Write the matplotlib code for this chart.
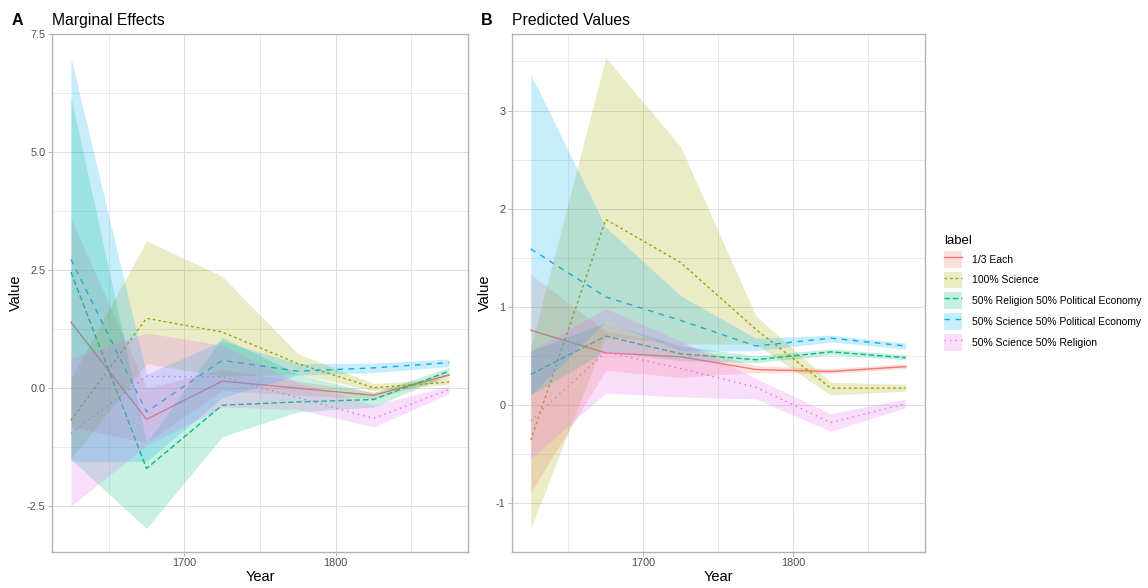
import matplotlib
matplotlib.use("Agg")
import matplotlib.pyplot as plt
from matplotlib.patches import Patch
from matplotlib.lines import Line2D
from matplotlib.legend_handler import HandlerTuple

plt.rcParams['font.family'] = ['Liberation Sans', 'DejaVu Sans']

# ---------------- data ----------------
years = [1625, 1675, 1725, 1775, 1825, 1875]
labels = ['1/3 Each', '100% Science', '50% Religion 50% Political Economy',
          '50% Science 50% Political Economy', '50% Science 50% Religion']

# Panel A: marginal effects
me_third = [1.40, -0.66, 0.15, 0.00, -0.15, 0.28]
me_third_lo = [-0.82, -1.15, -0.05, -0.15, -0.22, 0.22]
me_third_hi = [3.60, 0.00, 0.40, 0.15, -0.08, 0.33]

me_sci = [-0.68, 1.48, 1.19, 0.52, 0.01, 0.13]
me_sci_lo = [-1.50, 0.52, 0.25, 0.30, -0.05, 0.08]
me_sci_hi = [0.20, 3.12, 2.37, 0.73, 0.10, 0.20]

me_relpe = [2.46, -1.70, -0.36, -0.29, -0.24, 0.36]
me_relpe_lo = [-1.50, -2.97, -1.03, -0.50, -0.40, 0.28]
me_relpe_hi = [6.17, -1.15, 1.08, 0.30, -0.10, 0.44]

me_scipe = [2.73, -0.50, 0.59, 0.36, 0.43, 0.54]
me_scipe_lo = [-1.55, -1.55, -0.20, 0.28, 0.33, 0.46]
me_scipe_hi = [7.00, 0.30, 1.00, 0.52, 0.53, 0.62]

me_scirel = [-0.96, 0.25, 0.24, -0.20, -0.64, -0.03]
me_scirel_lo = [-2.50, -1.21, -0.40, -0.45, -0.82, -0.12]
me_scirel_hi = [0.64, 1.17, 0.91, 0.13, -0.36, 0.05]

# Panel B: predicted values
pv_third = [0.76, 0.53, 0.49, 0.36, 0.34, 0.39]
pv_third_lo = [-0.89, 0.35, 0.28, 0.33, 0.32, 0.37]
pv_third_hi = [1.33, 0.75, 0.62, 0.40, 0.37, 0.42]

pv_sci = [-0.36, 1.89, 1.45, 0.77, 0.17, 0.17]
pv_sci_lo = [-1.26, 0.70, 0.62, 0.62, 0.10, 0.14]
pv_sci_hi = [0.58, 3.54, 2.63, 0.91, 0.23, 0.21]

pv_relpe = [0.31, 0.70, 0.52, 0.46, 0.54, 0.48]
pv_relpe_lo = [0.10, 0.55, 0.45, 0.43, 0.51, 0.46]
pv_relpe_hi = [0.55, 0.84, 0.60, 0.50, 0.57, 0.51]

pv_scipe = [1.59, 1.10, 0.86, 0.60, 0.68, 0.60]
pv_scipe_lo = [0.10, 0.85, 0.55, 0.55, 0.64, 0.57]
pv_scipe_hi = [3.37, 1.81, 1.11, 0.68, 0.71, 0.63]

pv_scirel = [-0.16, 0.54, 0.37, 0.18, -0.18, 0.01]
pv_scirel_lo = [-0.55, 0.12, 0.08, 0.06, -0.27, -0.03]
pv_scirel_hi = [0.55, 0.98, 0.65, 0.27, -0.09, 0.06]

# ---------------- styling ----------------
colors = ['#F8766D', '#A3A500', '#00BF7D', '#00B0F6', '#E76BF3']
linestyles = ['-', (0, (2, 2)), (0, (4, 2)), (0, (4, 4)), (0, (1, 3))]
fill_alpha = 0.22
grid_col = '#DEDEDE'
frame_col = '#B3B3B3'


def draw_panel(ax, series, yticks, yminor, fmt):
    for i, (est, lo, hi) in enumerate(series):
        # lines sit under the ribbons, as in the original
        ax.plot(years, est, color=colors[i], ls=linestyles[i], lw=1.0, zorder=2)
    for i, (est, lo, hi) in enumerate(series):
        ax.fill_between(years, lo, hi, color=colors[i], alpha=fill_alpha,
                        lw=0, zorder=3)
    ax.margins(x=0.05, y=0.05)
    ax.set_xticks([1700, 1800])
    ax.set_xticks([1650, 1750, 1850], minor=True)
    ax.set_yticks(yticks)
    ax.set_yticklabels([fmt.format(v) for v in yticks])
    ax.set_yticks(yminor, minor=True)
    ax.grid(which='major', color=grid_col, lw=0.75, zorder=0)
    ax.grid(which='minor', color=grid_col, lw=0.45, zorder=0)
    ax.set_axisbelow(True)
    for sp in ax.spines.values():
        sp.set_color(frame_col)
        sp.set_linewidth(1.0)
    ax.tick_params(which='major', length=2.6, width=0.7, color=frame_col,
                   labelsize=7.8, labelcolor='#4D4D4D', pad=2)
    ax.tick_params(which='minor', length=0)
    ax.set_xlabel('Year', fontsize=10.5, labelpad=1)
    ax.set_ylabel('Value', fontsize=10.5, labelpad=2.5)


fig = plt.figure(figsize=(11.48, 5.88), dpi=100)
ax1 = fig.add_axes([52 / 1148, 36 / 588, 416 / 1148, 518 / 588])
ax2 = fig.add_axes([512 / 1148, 36 / 588, 412.5 / 1148, 518 / 588])

draw_panel(ax1,
           [(me_third, me_third_lo, me_third_hi),
            (me_sci, me_sci_lo, me_sci_hi),
            (me_relpe, me_relpe_lo, me_relpe_hi),
            (me_scipe, me_scipe_lo, me_scipe_hi),
            (me_scirel, me_scirel_lo, me_scirel_hi)],
           [-2.5, 0.0, 2.5, 5.0, 7.5], [-1.25, 1.25, 3.75, 6.25], '{:.1f}')
draw_panel(ax2,
           [(pv_third, pv_third_lo, pv_third_hi),
            (pv_sci, pv_sci_lo, pv_sci_hi),
            (pv_relpe, pv_relpe_lo, pv_relpe_hi),
            (pv_scipe, pv_scipe_lo, pv_scipe_hi),
            (pv_scirel, pv_scirel_lo, pv_scirel_hi)],
           [-1, 0, 1, 2, 3], [-0.5, 0.5, 1.5, 2.5, 3.5], '{:d}')

# panel tags and titles
fig.text(12 / 1148, 1 - 25 / 588, 'A', fontsize=11.5, fontweight='bold')
fig.text(52 / 1148, 1 - 25 / 588, 'Marginal Effects', fontsize=11.3)
fig.text(481 / 1148, 1 - 25 / 588, 'B', fontsize=11.5, fontweight='bold')
fig.text(512 / 1148, 1 - 25 / 588, 'Predicted Values', fontsize=11.3)

# legend: ribbon-coloured box with the line drawn across it
handles = [(Patch(facecolor=c, alpha=fill_alpha, lw=0),
            Line2D([], [], color=c, ls=ls, lw=1.0))
           for c, ls in zip(colors, linestyles)]
leg = fig.legend(handles, labels, title='label', loc='upper left',
                 bbox_to_anchor=(944 / 1148, 1 - 235 / 588),
                 frameon=False, fontsize=7.5, title_fontsize=9.5,
                 handler_map={tuple: HandlerTuple(ndivide=1, pad=0)},
                 handlelength=1.75, handleheight=2.1, handletextpad=0.9,
                 labelspacing=0.38, borderpad=0, borderaxespad=0,
                 alignment='left')

fig.savefig('out.png', dpi=100)
